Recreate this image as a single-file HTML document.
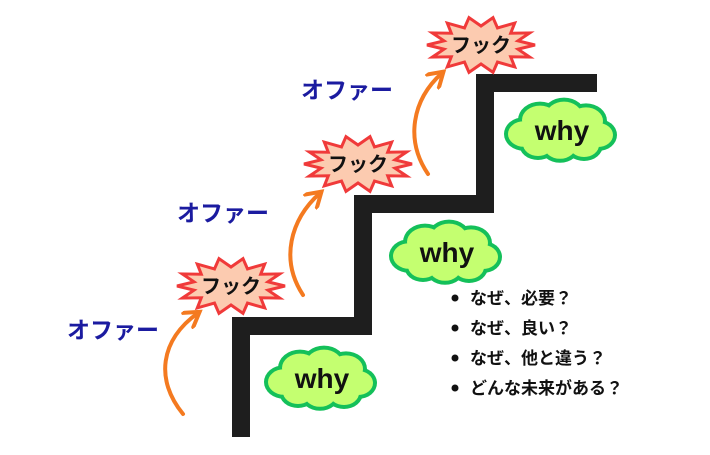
<!DOCTYPE html>
<html><head><meta charset="utf-8"><style>
html,body{margin:0;padding:0;background:#fff;}
svg text{font-family:"Liberation Sans","Noto Sans CJK JP",sans-serif;font-weight:bold;}
</style></head><body>
<svg id="s" width="710" height="450" viewBox="0 0 710 450" xmlns="http://www.w3.org/2000/svg">
<defs>
<marker id="ah" viewBox="0 0 10 10" refX="7" refY="5" markerWidth="5" markerHeight="5" orient="auto-start-reverse">
<path d="M0,0 L8,5 L0,10" fill="none" stroke="#f47a20" stroke-width="2"/>
</marker>
</defs>
<polyline points="241,437 241,326 363,326 363,204 485,204 485,83 597,83" fill="none" stroke="#1e1e1e" stroke-width="18"/>
<g fill="none" stroke="#f47a20" stroke-width="4" stroke-linecap="round" marker-end="url(#ah)">
<path d="M183,414 C155,380 160,340 198,313"/>
<path d="M303,295 C280,260 290,220 320,193"/>
<path d="M428,174 C405,140 412,100 442,73"/>
</g>
<g id="stars"></g>
<g id="clouds"></g>
<g font-size="23" fill="#1b1ba0">
<text x="67" y="338">オファー</text>
<text x="177" y="221">オファー</text>
<text x="301" y="98">オファー</text>
</g>
<g font-size="17" fill="#111">
<circle cx="455" cy="298" r="3.5"/><text x="470" y="304">なぜ、必要？</text>
<circle cx="455" cy="328" r="3.5"/><text x="470" y="334">なぜ、良い？</text>
<circle cx="455" cy="358" r="3.5"/><text x="470" y="364">なぜ、他と違う？</text>
<circle cx="455" cy="388" r="3.5"/><text x="470" y="394">どんな未来がある？</text>
</g>
</svg>
<script>
var NS="http://www.w3.org/2000/svg";
function el(t,a,p){var e=document.createElementNS(NS,t);for(var k in a)e.setAttribute(k,a[k]);p.appendChild(e);return e;}
var st=document.getElementById('stars');
[[231,286],[358,164],[481,45]].forEach(function(c){
 var pts=[],n=14;
 for(var i=0;i<2*n;i++){var a=Math.PI*i/n;var o=i%2==0;var rx=o?54:38,ry=o?28:19;pts.push((c[0]+rx*Math.cos(a)).toFixed(1)+","+(c[1]+ry*Math.sin(a)).toFixed(1));}
 el('polygon',{points:pts.join(' '),fill:'#fccbb0',stroke:'#f03a3a','stroke-width':3,'stroke-linejoin':'miter'},st);
 var t=el('text',{x:c[0],y:c[1]+7,'text-anchor':'middle','font-size':20,fill:'#111'},st);t.textContent='フック';
});
var cl=document.getElementById('clouds');
[[320,378],[445,252],[560,130]].forEach(function(c){
 var lobes=[[-36,4,16],[-20,-10,18],[4,-14,18],[26,-9,17],[38,5,15],[24,15,15],[0,16,16],[-22,14,15],[0,0,24]];
 var g1=el('g',{fill:'#14c05a'},cl),g2=el('g',{fill:'#c4ff70'},cl);
 lobes.forEach(function(l){el('ellipse',{cx:c[0]+l[0],cy:c[1]+l[1],rx:l[2]+4,ry:l[2]*0.8+4},g1);});
 lobes.forEach(function(l){el('ellipse',{cx:c[0]+l[0],cy:c[1]+l[1],rx:l[2],ry:l[2]*0.8},g2);});
 var t=el('text',{x:c[0]+2,y:c[1]+10,'text-anchor':'middle','font-size':28,fill:'#111'},cl);t.textContent='why';
});
</script>
</body></html>
